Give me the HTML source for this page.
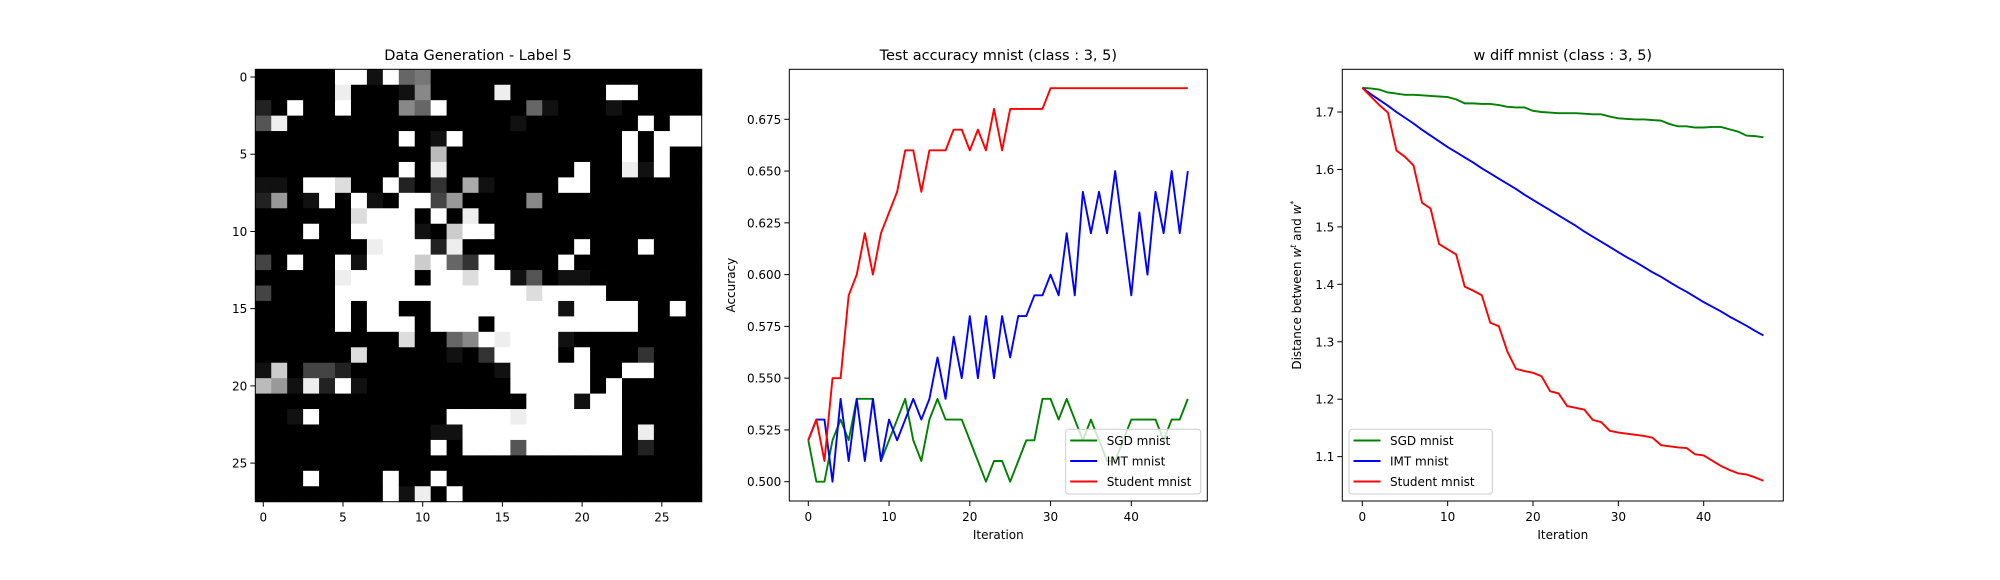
<!DOCTYPE html>
<html><head><meta charset="utf-8">
<style>
html,body{margin:0;padding:0;background:#fff;}
svg{display:block;font-family:"DejaVu Sans","Liberation Sans",sans-serif;}
</style></head>
<body>
<svg id="fig" width="2000" height="580" viewBox="0 0 2000 580" xmlns="http://www.w3.org/2000/svg"></svg>
<script>
// ---- Heatmap data (28x28, hex grey level 0=black f=white) ----
const heatRows = [
"00000ff1f6700000000000000000",
"00000e000180000e000000ff0000",
"20f00f00086f0000061000100000",
"5e000000000000001" + "0000000f0ff",
"000000000f01f0000000000f0fff",
"00000000000b00000000000f0f00",
"000000000f0e00000000f00e1f00",
"110ffd00f2030a10000ff0000000",
"2901f0f10ff49000080000000000",
"000000dfff0f0e00000000000000",
"000f00ffff10cff0000000000000",
"0000000efff2e0000000f000f000",
"40f00f1fffcf63f0000f00000000",
"00000effff0ffdff150110000000",
"40000ffffffffffffdffff000000",
"00000f0ff00ffffffff1ffff00f0",
"00000f0fff0fff0fffffffff0000",
"000000000d0068fefff100000000",
"000000d00000103ffff0f0003000",
"1c04420000000001fffff00ff000",
"b91e2f1000000000fffff0f00000",
"00000000000000000fff1ff00000",
"001f00000000ffffeffffff00000",
"0000000000011ffffffffff0e000",
"00000000000f0fff5ffffff02000",
"0000000000000000000000000000",
"000f0000f00f0000000000000000",
"00000000f1e0f000000000000000"
];
const heatTicks = [0,5,10,15,20,25];

// ---- Accuracy chart data ----
const iterations = Array.from({length:48},(_, i)=>i);
const accSGD = [.52,.50,.50,.52,.53,.52,.54,.54,.54,.51,.52,.53,.54,.52,.51,.53,.54,.53,.53,.53,.52,.51,.50,.51,.51,.50,.51,.52,.52,.54,.54,.53,.54,.53,.52,.53,.52,.51,.51,.52,.53,.53,.53,.53,.52,.53,.53,.54];
const accIMT = [.52,.53,.53,.50,.54,.51,.54,.51,.54,.51,.53,.52,.53,.54,.53,.54,.56,.54,.57,.55,.58,.55,.58,.55,.58,.56,.58,.58,.59,.59,.60,.59,.62,.59,.64,.62,.64,.62,.65,.62,.59,.63,.60,.64,.62,.65,.62,.65];
const accStudent = [.52,.53,.51,.55,.55,.59,.60,.62,.60,.62,.63,.64,.66,.66,.64,.66,.66,.66,.67,.67,.66,.67,.66,.68,.66,.68,.68,.68,.68,.68,.69,.69,.69,.69,.69,.69,.69,.69,.69,.69,.69,.69,.69,.69,.69,.69,.69,.69];
const accYTicks = [0.500,0.525,0.550,0.575,0.600,0.625,0.650,0.675];
const xTicks = [0,10,20,30,40];

// ---- W diff chart data ----
const wSGD = [1.742,1.741,1.739,1.734,1.732,1.730,1.730,1.729,1.728,1.727,1.726,1.722,1.715,1.715,1.714,1.714,1.712,1.709,1.708,1.708,1.702,1.700,1.699,1.698,1.698,1.698,1.697,1.696,1.696,1.692,1.689,1.688,1.687,1.687,1.686,1.685,1.679,1.675,1.675,1.673,1.673,1.674,1.674,1.670,1.666,1.659,1.658,1.656];
const wIMT = [1.742,1.731,1.721,1.711,1.700,1.690,1.680,1.669,1.659,1.649,1.639,1.630,1.621,1.612,1.602,1.593,1.584,1.575,1.566,1.556,1.547,1.538,1.529,1.520,1.511,1.502,1.492,1.483,1.474,1.465,1.456,1.447,1.439,1.430,1.421,1.413,1.404,1.395,1.387,1.378,1.369,1.361,1.353,1.344,1.336,1.328,1.319,1.311];
const wStudent = [1.742,1.727,1.712,1.699,1.633,1.622,1.607,1.542,1.532,1.470,1.461,1.452,1.396,1.389,1.381,1.333,1.327,1.283,1.253,1.249,1.246,1.240,1.214,1.210,1.188,1.185,1.182,1.164,1.160,1.145,1.142,1.140,1.138,1.136,1.133,1.120,1.118,1.116,1.115,1.104,1.102,1.093,1.084,1.077,1.071,1.069,1.064,1.058];
const wYTicks = [1.1,1.2,1.3,1.4,1.5,1.6,1.7];

const seriesNames = ["SGD mnist","IMT mnist","Student mnist"];
const seriesColors = ["#008000","#0000ff","#ff0000"];

const NS = "http://www.w3.org/2000/svg";
const svg = document.getElementById("fig");
function mk(tag, attrs, parent){
  const e = document.createElementNS(NS, tag);
  for (const k in attrs) e.setAttribute(k, attrs[k]);
  (parent||svg).appendChild(e);
  return e;
}
function txt(s, attrs, parent){ const t = mk("text", attrs, parent); t.textContent = s; return t; }

// ---------- Heatmap ----------
(function(){
  const g = mk("g", {});
  
  
  const L=255.3, R=701.7, T=69.3, B=501.7;
  const cw=(R-L)/28, ch=(B-T)/28;
  const hx = i => L + (i+0.5)*cw;
  const hy = j => T + (j+0.5)*ch;
  heatRows.forEach((row, j) => {
    for (let i=0;i<28;i++){
      const v = parseInt(row[i],16);
      const c = Math.round(v/15*255);
      const r = mk("rect", {x:(hx(i)-cw/2).toFixed(2), y:(hy(j)-ch/2).toFixed(2), width:(cw+0.4).toFixed(2), height:(ch+0.4).toFixed(2), fill:`rgb(${c},${c},${c})`}, g);
      
      
    }
  });
  mk("rect",{x:L,y:T,width:R-L,height:B-T,fill:"none",stroke:"#000","stroke-width":1},g);
  heatTicks.forEach(t=>{
    mk("line",{x1:hx(t),x2:hx(t),y1:B,y2:B+5,stroke:"#000"},g);
    const xl = txt(String(t),{x:hx(t),y:B+20,"text-anchor":"middle","font-size":12},g);
    
    
    mk("line",{x1:L-5,x2:L,y1:hy(t),y2:hy(t),stroke:"#000"},g);
    const yl = txt(String(t),{x:L-8,y:hy(t)+4.5,"text-anchor":"end","font-size":12},g);
    
    
  });
  const ti = txt("Data Generation - Label 5",{x:478,y:60,"text-anchor":"middle","font-size":14.5},g);
  
  
})();

// ---------- Line chart helper ----------
function lineChart(cfg){
  const g = mk("g", {});
  
  
  const {L,R,T,B} = cfg;
  const X = v => cfg.x0px + (v - 0) * cfg.xs;
  const Y = v => cfg.y0px - (v - cfg.y0) * cfg.ys;
  mk("rect",{x:L,y:T,width:R-L,height:B-T,fill:"#fff"},g);
  const series = [cfg.s1, cfg.s2, cfg.s3];
  series.forEach((s, k) => {
    const d = s.map((v,i)=>(i?"L":"M")+X(iterations[i]).toFixed(2)+","+Y(v).toFixed(2)).join("");
    const p = mk("path",{d, fill:"none", stroke:seriesColors[k], "stroke-width":1.9, "stroke-linejoin":"round"},g);
    
    
  });
  mk("rect",{x:L,y:T,width:R-L,height:B-T,fill:"none",stroke:"#000","stroke-width":1},g);
  xTicks.forEach(t=>{
    mk("line",{x1:X(t),x2:X(t),y1:B,y2:B+5,stroke:"#000"},g);
    const tl = txt(String(t),{x:X(t),y:B+20,"text-anchor":"middle","font-size":12},g);
    
    
  });
  cfg.yTicks.forEach(t=>{
    mk("line",{x1:L-5,x2:L,y1:Y(t),y2:Y(t),stroke:"#000"},g);
    const tl = txt(t.toFixed(cfg.dec),{x:L-8,y:Y(t)+4.5,"text-anchor":"end","font-size":12},g);
    
    
  });
  const ti = txt(cfg.title,{x:(L+R)/2,y:60,"text-anchor":"middle","font-size":14.5},g);
  
  
  const xl = txt("Iteration",{x:(L+R)/2,y:539,"text-anchor":"middle","font-size":12},g);
  
  
  const yl = mk("text",{transform:`translate(${cfg.ylx},${(T+B)/2}) rotate(-90)`,"text-anchor":"middle","font-size":12},g);
  yl.innerHTML = cfg.ylabel;
  
  
  // legend
  const lg = mk("g",{},g);
  
  
  mk("rect",{x:cfg.lgx,y:429.3,width:cfg.lgw,height:64.7,rx:3,fill:"#fff","fill-opacity":0.8,stroke:"#ccc","stroke-width":1},lg);
  seriesNames.forEach((n,k)=>{
    const yy = 440.5 + k*20.5;
    const ln = mk("line",{x1:cfg.lgx+4.5,x2:cfg.lgx+31.5,y1:yy,y2:yy,stroke:seriesColors[k],"stroke-width":1.9},lg);
    
    
    const t = txt(n,{x:cfg.lgx+41,y:yy+4.5,"font-size":12},lg);
    
    
  });
}

lineChart({name:"accuracy-chart", L:789.3,R:1207.3,T:69.3,B:501,
  x0px:808.3, xs:8.075, y0:0.5, y0px:481.7, ys:2070.9,
  s1:accSGD, s2:accIMT, s3:accStudent, yTicks:accYTicks, dec:3,
  title:"Test accuracy mnist (class : 3, 5)", ylx:735, ylabel:"Accuracy",
  lgx:1065.7, lgw:135});

lineChart({name:"w-diff-chart", L:1342.3,R:1783.3,T:69.3,B:501,
  x0px:1362.3, xs:8.535, y0:1.7, y0px:112, ys:574.4,
  s1:wSGD, s2:wIMT, s3:wStudent, yTicks:wYTicks, dec:1,
  title:"w diff mnist (class : 3, 5)", ylx:1301,
  ylabel:'Distance between <tspan font-style="italic">w</tspan><tspan font-style="italic" font-size="8" dy="-5">t</tspan><tspan dy="5"> and </tspan><tspan font-style="italic">w</tspan><tspan font-size="8" dy="-5">*</tspan>',
  lgx:1349, lgw:143.3});
</script>
</body></html>
